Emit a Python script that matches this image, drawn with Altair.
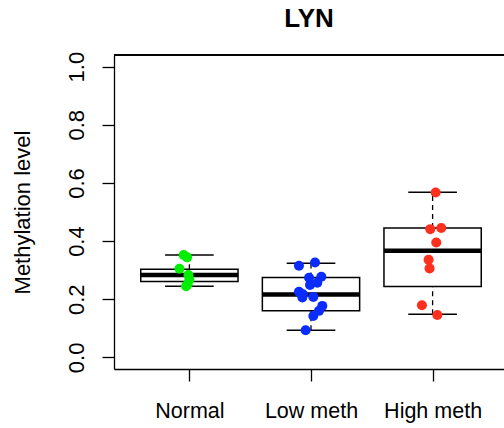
import altair as alt
import pandas as pd

# ---- data ----
categories = ["Normal", "Low meth", "High meth"]
colors = ["#00ee00", "#0a2cff", "#ff2f1f"]

normal_vals = [0.352, 0.344, 0.305, 0.283, 0.268, 0.252, 0.245]
normal_jit = [-0.047, -0.019, -0.082, -0.008, 0.0, -0.014, -0.027]
low_vals = [0.326, 0.315, 0.277, 0.274, 0.257, 0.249, 0.226, 0.217, 0.208, 0.206, 0.177, 0.160, 0.142, 0.093]
low_jit = [0.033, -0.099, 0.085, -0.016, 0.052, -0.008, -0.099, -0.066, 0.019, -0.071, 0.093, 0.066, 0.019, -0.044]
high_vals = [0.567, 0.445, 0.441, 0.395, 0.336, 0.306, 0.179, 0.146]
high_jit = [0.025, 0.071, -0.019, 0.030, -0.033, -0.025, -0.088, 0.039]

box_lower = [0.245, 0.093, 0.148]
box_q1 = [0.261, 0.160, 0.244]
box_median = [0.283, 0.216, 0.367]
box_q3 = [0.303, 0.275, 0.445]
box_upper = [0.352, 0.324, 0.568]

# ---- tables ----
pts_rows = []
for i, (vals, jit) in enumerate([(normal_vals, normal_jit), (low_vals, low_jit), (high_vals, high_jit)]):
    for v, j in zip(vals, jit):
        pts_rows.append({"group": categories[i], "pos": i + 1, "jit": j, "value": v})
pts = pd.DataFrame(pts_rows)

box = pd.DataFrame({
    "group": categories,
    "pos": [1, 2, 3],
    "lower": box_lower,
    "q1": box_q1,
    "median": box_median,
    "q3": box_q3,
    "upper": box_upper,
})

W, H = 390, 314
FONT = "Liberation Sans"
xdom = [0.38, 0.38 + 3.24 * W / 394]
xs = alt.Scale(domain=xdom, nice=False, zero=False)
ys = alt.Scale(domain=[-0.04, 1.04], nice=False, zero=False)

label_expr = "[" + ",".join("'" + c + "'" for c in categories) + "][datum.value - 1]"
xaxis = alt.Axis(values=[1, 2, 3], labelExpr=label_expr, tickSize=12, labelPadding=36,
                 labelBaseline="alphabetic", labelFontSize=21.5, labelFont=FONT, labelColor="black",
                 domainColor="black", domainWidth=1.3, tickColor="black", tickWidth=1.3,
                 grid=False, title=None, labelFlush=False, labelOverlap=False)
yaxis = alt.Axis(values=[0, 0.2, 0.4, 0.6, 0.8, 1.0], format=".1f", labelAngle=270,
                 labelAlign="center", labelBaseline="alphabetic", tickSize=12, labelPadding=19,
                 labelFontSize=22, labelFont=FONT, labelColor="black",
                 domainColor="black", domainWidth=1.3, tickColor="black", tickWidth=1.3,
                 grid=False, title="Methylation level", titleAngle=270, titleX=-85, titleY=157,
                 titleAlign="center", titleBaseline="alphabetic", titleFontSize=22,
                 titleFont=FONT, titleFontWeight="normal", titleColor="black",
                 labelFlush=False, labelOverlap=False)

base_box = alt.Chart(box).transform_calculate(
    x_lo="datum.pos - 0.4", x_hi="datum.pos + 0.4",
    c_lo="datum.pos - 0.2", c_hi="datum.pos + 0.2")

whisk_up = base_box.mark_rule(color="black", strokeWidth=1.3, strokeDash=[5, 4]).encode(
    x=alt.X("pos:Q", scale=xs, axis=xaxis),
    y=alt.Y("q3:Q", scale=ys, axis=yaxis), y2="upper:Q")
whisk_lo = base_box.mark_rule(color="black", strokeWidth=1.3, strokeDash=[5, 4]).encode(
    x=alt.X("pos:Q", scale=xs, axis=xaxis),
    y=alt.Y("lower:Q", scale=ys, axis=yaxis), y2="q1:Q")
cap_up = base_box.mark_rule(color="black", strokeWidth=1.5).encode(
    x=alt.X("c_lo:Q", scale=xs, axis=xaxis), x2="c_hi:Q",
    y=alt.Y("upper:Q", scale=ys, axis=yaxis))
cap_lo = base_box.mark_rule(color="black", strokeWidth=1.5).encode(
    x=alt.X("c_lo:Q", scale=xs, axis=xaxis), x2="c_hi:Q",
    y=alt.Y("lower:Q", scale=ys, axis=yaxis))
rect = base_box.mark_rect(fill="white", stroke="black", strokeWidth=1.5).encode(
    x=alt.X("x_lo:Q", scale=xs, axis=xaxis), x2="x_hi:Q",
    y=alt.Y("q1:Q", scale=ys, axis=yaxis), y2="q3:Q")
med = base_box.mark_rule(color="black", strokeWidth=4.5).encode(
    x=alt.X("x_lo:Q", scale=xs, axis=xaxis), x2="x_hi:Q",
    y=alt.Y("median:Q", scale=ys, axis=yaxis))

points = alt.Chart(pts).transform_calculate(xj="datum.pos + datum.jit").mark_circle(
    size=100, opacity=1).encode(
    x=alt.X("xj:Q", scale=xs, axis=xaxis),
    y=alt.Y("value:Q", scale=ys, axis=yaxis),
    color=alt.Color("group:N", scale=alt.Scale(domain=categories, range=colors), legend=None))

top_line = alt.Chart(box).mark_rule(color="black", strokeWidth=1.3).encode(
    x=alt.value(0), x2=alt.value(W), y=alt.value(0))

chart = alt.layer(whisk_up, whisk_lo, cap_up, cap_lo, rect, med, points, top_line).properties(
    width=W, height=H,
    title=alt.TitleParams("LYN", font=FONT, fontSize=26, fontWeight="bold", color="black",
                          anchor="middle", frame="group", baseline="alphabetic", offset=-2),
    autosize=alt.AutoSizeParams(type="none"),
    padding={"left": 114, "top": 55, "right": 0, "bottom": 59},
).configure_view(stroke=None).configure(background="white")

chart.save("out.html", embed_options={"renderer": "svg", "actions": False})
